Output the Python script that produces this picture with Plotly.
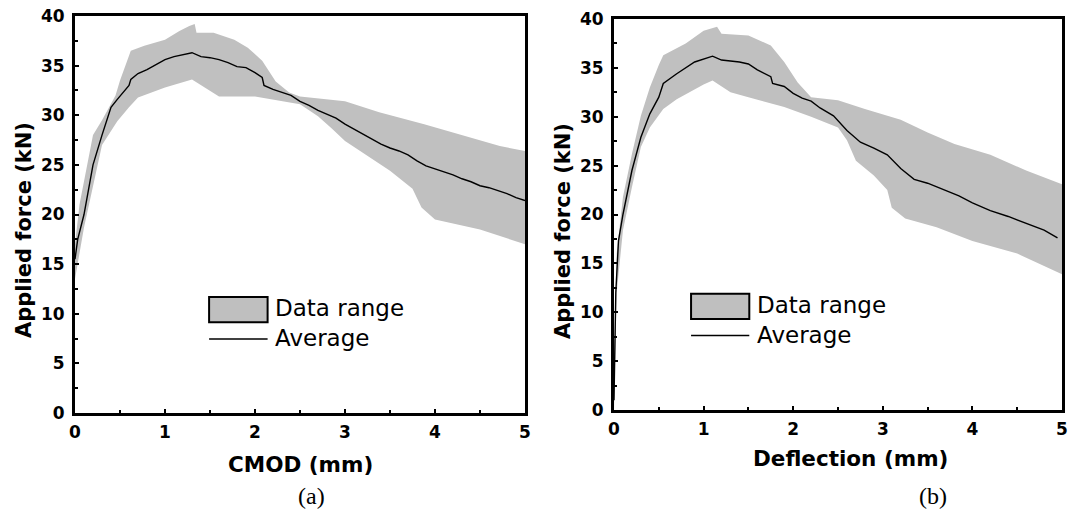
import plotly.graph_objects as go

# ---------------- Panel (a): CMOD ----------------
a_avg_x = [0.0, 0.03, 0.1, 0.2, 0.3, 0.4, 0.47, 0.6, 0.62, 0.7, 0.8, 0.9, 1.0, 1.1, 1.2, 1.3, 1.4, 1.5,
           1.6, 1.7, 1.8, 1.9, 2.0, 2.08, 2.1, 2.2, 2.3, 2.4, 2.5, 2.6, 2.7, 2.8, 2.9, 3.0, 3.1, 3.2, 3.3,
           3.4, 3.5, 3.6, 3.7, 3.8, 3.9, 4.0, 4.1, 4.2, 4.3, 4.4, 4.5, 4.6, 4.7, 4.8, 4.9, 5.0]
a_avg_y = [15.5, 17.5, 20.0, 25.0, 28.0, 30.8, 31.6, 33.0, 33.6, 34.2, 34.6, 35.1, 35.6, 35.9, 36.1, 36.3, 35.9, 35.8,
           35.6, 35.3, 34.9, 34.8, 34.3, 33.8, 33.0, 32.6, 32.3, 32.0, 31.4, 31.0, 30.5, 30.1, 29.7, 29.1, 28.6, 28.1, 27.6,
           27.1, 26.7, 26.4, 26.0, 25.4, 24.9, 24.6, 24.3, 24.0, 23.6, 23.3, 22.9, 22.7, 22.4, 22.1, 21.7, 21.4]

a_up_x = [0.0, 0.05, 0.2, 0.3, 0.45, 0.5, 0.62, 0.77, 1.0, 1.16, 1.27, 1.33, 1.35, 1.54, 1.77, 1.92, 2.08,
          2.23, 2.38, 2.5, 3.0, 3.38, 3.88, 4.34, 4.72, 5.0]
a_up_y = [17.0, 21.0, 28.0, 29.5, 32.0, 33.5, 36.5, 37.0, 37.6, 38.5, 39.0, 39.2, 38.3, 38.3, 37.6, 36.8, 35.5,
          33.4, 32.3, 31.9, 31.4, 30.3, 29.1, 27.9, 26.9, 26.4]
a_lo_x = [0.0, 0.1, 0.2, 0.3, 0.47, 0.6, 0.7, 1.0, 1.3, 1.4, 1.6, 2.0, 2.3, 2.5, 2.7, 2.85, 3.0, 3.2, 3.5,
          3.75, 3.85, 4.0, 4.5, 5.0]
a_lo_y = [13.5, 18.7, 22.7, 27.0, 29.4, 30.8, 31.8, 32.8, 33.6, 33.0, 31.9, 31.9, 31.4, 31.1, 29.9, 28.7, 27.4, 26.2, 24.4,
          22.6, 20.7, 19.5, 18.5, 17.0]

# ---------------- Panel (b): Deflection ----------------
b_avg_x = [0.0, 0.01, 0.02, 0.05, 0.1, 0.2, 0.3, 0.4, 0.5, 0.55, 0.7, 0.9, 1.0, 1.1, 1.2, 1.4, 1.5, 1.6, 1.75,
           1.77, 1.9, 2.0, 2.1, 2.2, 2.3, 2.45, 2.6, 2.75, 2.9, 3.05, 3.2, 3.35, 3.5, 3.7, 3.85, 4.0, 4.2,
           4.4, 4.6, 4.8, 4.95]
b_avg_y = [1.0, 6.0, 12.0, 17.3, 20.0, 24.5, 27.9, 30.3, 32.0, 33.4, 34.4, 35.6, 35.9, 36.2, 35.8, 35.6, 35.4, 34.8, 34.1,
           33.4, 33.1, 32.4, 31.9, 31.6, 30.9, 30.1, 28.6, 27.4, 26.8, 26.1, 24.7, 23.6, 23.2, 22.5, 21.9, 21.2, 20.4,
           19.8, 19.1, 18.4, 17.6]

b_up_x = [0.0, 0.03, 0.1, 0.2, 0.3, 0.4, 0.5, 0.55, 0.8, 1.0, 1.15, 1.2, 1.5, 1.75, 1.9, 2.05, 2.2, 2.5,
          2.8, 3.2, 3.5, 3.8, 4.2, 4.6, 5.0]
b_up_y = [5.0, 16.0, 21.8, 26.2, 30.1, 33.0, 35.3, 36.3, 37.5, 38.8, 39.2, 38.5, 38.3, 37.3, 35.6, 33.5, 32.0, 31.7,
          30.8, 29.7, 28.4, 27.2, 26.1, 24.5, 23.1]
b_lo_x = [0.0, 0.03, 0.1, 0.2, 0.3, 0.4, 0.55, 0.7, 1.0, 1.1, 1.3, 1.5, 1.9, 2.2, 2.5, 2.6, 2.7, 2.9,
          3.05, 3.1, 3.25, 3.6, 4.0, 4.5, 5.0]
b_lo_y = [0.0, 12.0, 18.4, 22.8, 26.9, 28.9, 30.8, 31.8, 33.3, 33.7, 32.5, 32.0, 31.0, 30.0, 28.9, 27.6, 25.5, 24.0,
          22.5, 20.7, 19.6, 18.7, 17.3, 16.0, 13.9]

x_ticks = [0, 1, 2, 3, 4, 5]
y_ticks = [0, 5, 10, 15, 20, 25, 30, 35, 40]
legend_labels = ["Data range", "Average"]

BAND = "#c0c0c0"
W, H = 1069, 513

fig = go.Figure()

def add_panel(xa, ya, ux, uy, lx, ly, avx, avy):
    fig.add_trace(go.Scatter(x=ux + lx[::-1], y=uy + ly[::-1], fill="toself", fillcolor=BAND,
                             line=dict(width=0, color=BAND), mode="lines", hoverinfo="skip",
                             showlegend=False, xaxis=xa, yaxis=ya))
    fig.add_trace(go.Scatter(x=avx, y=avy, mode="lines", line=dict(color="black", width=1.4),
                             showlegend=False, xaxis=xa, yaxis=ya))

add_panel("x", "y", a_up_x, a_up_y, a_lo_x, a_lo_y, a_avg_x, a_avg_y)
add_panel("x2", "y2", b_up_x, b_up_y, b_lo_x, b_lo_y, b_avg_x, b_avg_y)

tickfont = dict(family="DejaVu Sans", size=17, color="black", weight="bold")

def px_x(p):
    return p / W

def px_y(p):
    return 1 - p / H

def xaxis(dom, anchor):
    return dict(domain=dom, anchor=anchor, range=[0, 5], tickvals=x_ticks, ticktext=[str(v) for v in x_ticks],
                showline=True, linewidth=3, linecolor="black", mirror=True, automargin=False,
                ticklabeloverflow="allow",
                ticks="inside", ticklen=4, tickwidth=2, tickcolor="black",
                minor=dict(dtick=0.5, tick0=0, ticks="inside", ticklen=3, tickwidth=2, tickcolor="black"),
                showgrid=False, zeroline=False, tickfont=tickfont, ticklabelstandoff=2)

def yaxis(dom, anchor):
    return dict(domain=dom, anchor=anchor, range=[0, 40], tickvals=y_ticks, ticktext=[str(v) for v in y_ticks],
                showline=True, linewidth=3, linecolor="black", mirror=True, automargin=False,
                ticklabeloverflow="allow",
                ticks="inside", ticklen=4, tickwidth=2, tickcolor="black",
                minor=dict(dtick=2.5, tick0=0, ticks="inside", ticklen=3, tickwidth=2, tickcolor="black"),
                showgrid=False, zeroline=False, tickfont=tickfont, ticklabelstandoff=4)

fig.update_layout(
    width=W, height=H, margin=dict(l=0, r=0, t=0, b=0, autoexpand=False),
    paper_bgcolor="white", plot_bgcolor="white", showlegend=False,
    xaxis=xaxis([px_x(75), px_x(525)], "y"),
    yaxis=yaxis([px_y(413), px_y(16)], "x"),
    xaxis2=xaxis([px_x(614), px_x(1062)], "y2"),
    yaxis2=yaxis([px_y(410), px_y(19)], "x2"),
)

shapes = []
annotations = []

def legend(xr, yr, bx0, bx1, by0, by1, ly, tx, ty1, ty2):
    shapes.append(dict(type="rect", xref=xr, yref=yr, x0=bx0, x1=bx1, y0=by0, y1=by1,
                       fillcolor="#bfbfbf", line=dict(color="black", width=2), layer="above"))
    shapes.append(dict(type="line", xref=xr, yref=yr, x0=bx0, x1=bx1, y0=ly, y1=ly,
                       line=dict(color="black", width=1.5), layer="above"))
    lf = dict(family="DejaVu Sans", size=23, color="black")
    annotations.append(dict(x=tx, y=ty1, xref=xr, yref=yr, text=legend_labels[0], showarrow=False,
                            xanchor="left", yanchor="middle", font=lf))
    annotations.append(dict(x=tx, y=ty2, xref=xr, yref=yr, text=legend_labels[1], showarrow=False,
                            xanchor="left", yanchor="middle", font=lf))

legend("x", "y", 1.49, 2.14, 9.14, 11.7, 7.46, 2.2, 10.6, 7.56)
legend("x2", "y2", 0.86, 1.51, 9.32, 11.88, 7.61, 1.57, 10.74, 7.67)

titlefont = dict(family="DejaVu Sans", size=21.5, color="black", weight="bold")
def pa(px, py, text, font, angle=0):
    annotations.append(dict(x=px_x(px), y=px_y(py), xref="paper", yref="paper", text=text,
                            showarrow=False, xanchor="center", yanchor="middle", font=font, textangle=angle))

pa(300, 464, "CMOD (mm)", titlefont)
pa(850, 458, "Deflection (mm)", titlefont)
ytf = dict(family="DejaVu Sans", size=21, color="black", weight="bold")
pa(24, 230, "Applied force (kN)", ytf, -90)
pa(563, 231, "Applied force (kN)", ytf, -90)
capfont = dict(family="Liberation Serif", size=24, color="black")
pa(311, 496, "(a)", capfont)
pa(933, 496, "(b)", capfont)

fig.update_layout(shapes=shapes, annotations=annotations)
fig.write_html("out.html", config={"displayModeBar": False},
               post_script="document.body.style.margin='0px';document.body.style.overflow='hidden';")
